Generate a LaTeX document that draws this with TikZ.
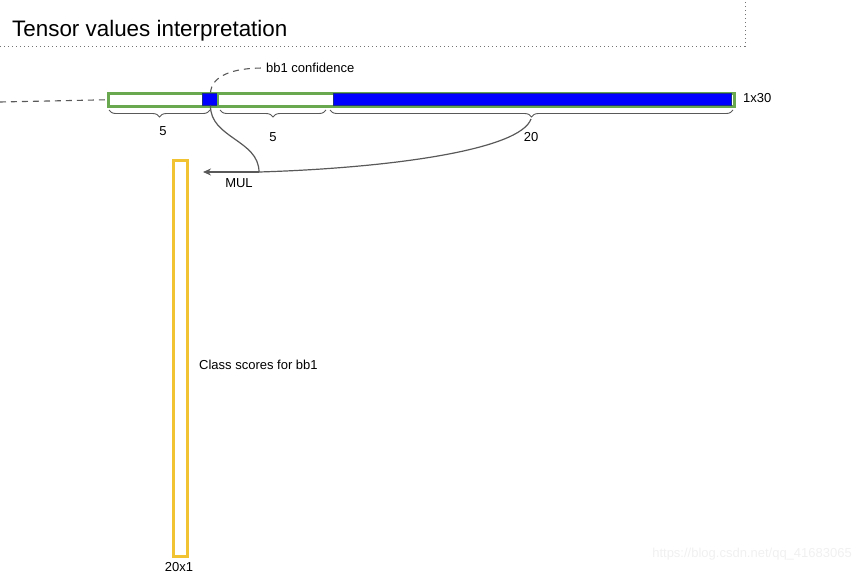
\documentclass[tikz,border=0pt]{standalone}
\usepackage{fontspec}
\setmainfont{Liberation Sans}
\usetikzlibrary{decorations.pathreplacing,arrows.meta,calc}
\definecolor{gbar}{HTML}{6AA84F}
\definecolor{bfill}{HTML}{0000FF}
\definecolor{bedge}{HTML}{1C2F87}
\definecolor{ybox}{HTML}{F1C232}
\definecolor{conn}{HTML}{595959}
\begin{document}
\begin{tikzpicture}[x=1pt,y=-1pt,
  lbl/.style={font=\fontsize{13}{15}\selectfont, inner sep=0pt},
  seg/.style={draw=gbar, line width=2.5pt, fill=white, inner sep=0pt, minimum height=13pt},
  cell/.style={draw=bedge, line width=1pt, fill=bfill, inner sep=0pt, minimum height=12pt},
  brc/.style={draw=conn, line width=0.9pt, decorate, decoration={brace, mirror, amplitude=7pt}},
  dsh/.style={draw=conn, line width=1.1pt, dash pattern=on 6pt off 5pt},
  cn/.style={draw=conn, line width=1.2pt}]
\useasboundingbox (0,0) rectangle (862,574);
% title
\node[anchor=base west, font=\fontsize{22.4}{26}\selectfont, inner sep=0pt] (title) at (12,36) {Tensor values interpretation};
\coordinate (d0) at (0,46);
\coordinate (d1) at (745,46);
\coordinate (d2) at (745,0);
\draw[black!55, line width=1pt, dash pattern=on 1pt off 3pt] (d0) -- (d1) -- (d2);
% bar
\node[seg, minimum width=626pt, anchor=north west] (bar) at (107,92) {};
\node[cell, minimum width=16pt, anchor=west] (conf) at (202,99) {};
\node[cell, minimum width=398pt, anchor=west] (cls) at (333,99) {};
\draw[gbar, line width=2.5pt] (218,92) -- (218,106);
\coordinate (L) at (0,102);
\draw[dsh] (L) -- (bar.west);
\node[lbl, anchor=west] (sz) at (743,98) {1x30};
% braces
\coordinate (b1a) at (109,110); \coordinate (b1b) at (210,110);
\coordinate (b2a) at (220,110); \coordinate (b2b) at (326,110);
\coordinate (b3a) at (330,110); \coordinate (b3b) at (733,110);
\draw[brc] (b1a) -- (b1b);
\draw[brc] (b2a) -- (b2b);
\draw[brc] (b3a) -- (b3b);
\node[lbl] (n1) at (163,131) {5};
\node[lbl] (n2) at (273,137) {5};
\node[lbl] (n3) at (531,137) {20};
\coordinate (t3) at (531,119);
% confidence label
\node[lbl, anchor=west] (cl) at (266,68) {bb1 confidence};
\draw[dsh] (conf.north) .. controls (212,76) and (232,68) .. ([xshift=-3pt]cl.west);
% MUL
\coordinate (m) at (259,172);
\coordinate (ae) at (203,172);
\draw[cn] (conf.south) .. controls (210,138) and (259,140) .. (m);
\draw[cn] (t3) .. controls (520,150) and (390,168) .. (m);
\draw[cn, -{Stealth[length=8pt,width=7pt]}] (m) -- (ae);
\node[lbl] (mul) at (239,183) {MUL};
% class scores
\node[draw=ybox, line width=2.5pt, minimum width=14pt, minimum height=396pt, inner sep=0pt, anchor=north west] (scores) at (172,159) {};
\node[lbl, anchor=west] (cs) at (199,365) {Class scores for bb1};
\node[lbl] (sz2) at (179,567) {20x1};
% watermark
\node[font=\fontsize{13}{15}\selectfont, text=black!6, inner sep=0pt, anchor=east] (wm) at (852,554) {https://blog.csdn.net/qq\_41683065};
\end{tikzpicture}
\end{document}
